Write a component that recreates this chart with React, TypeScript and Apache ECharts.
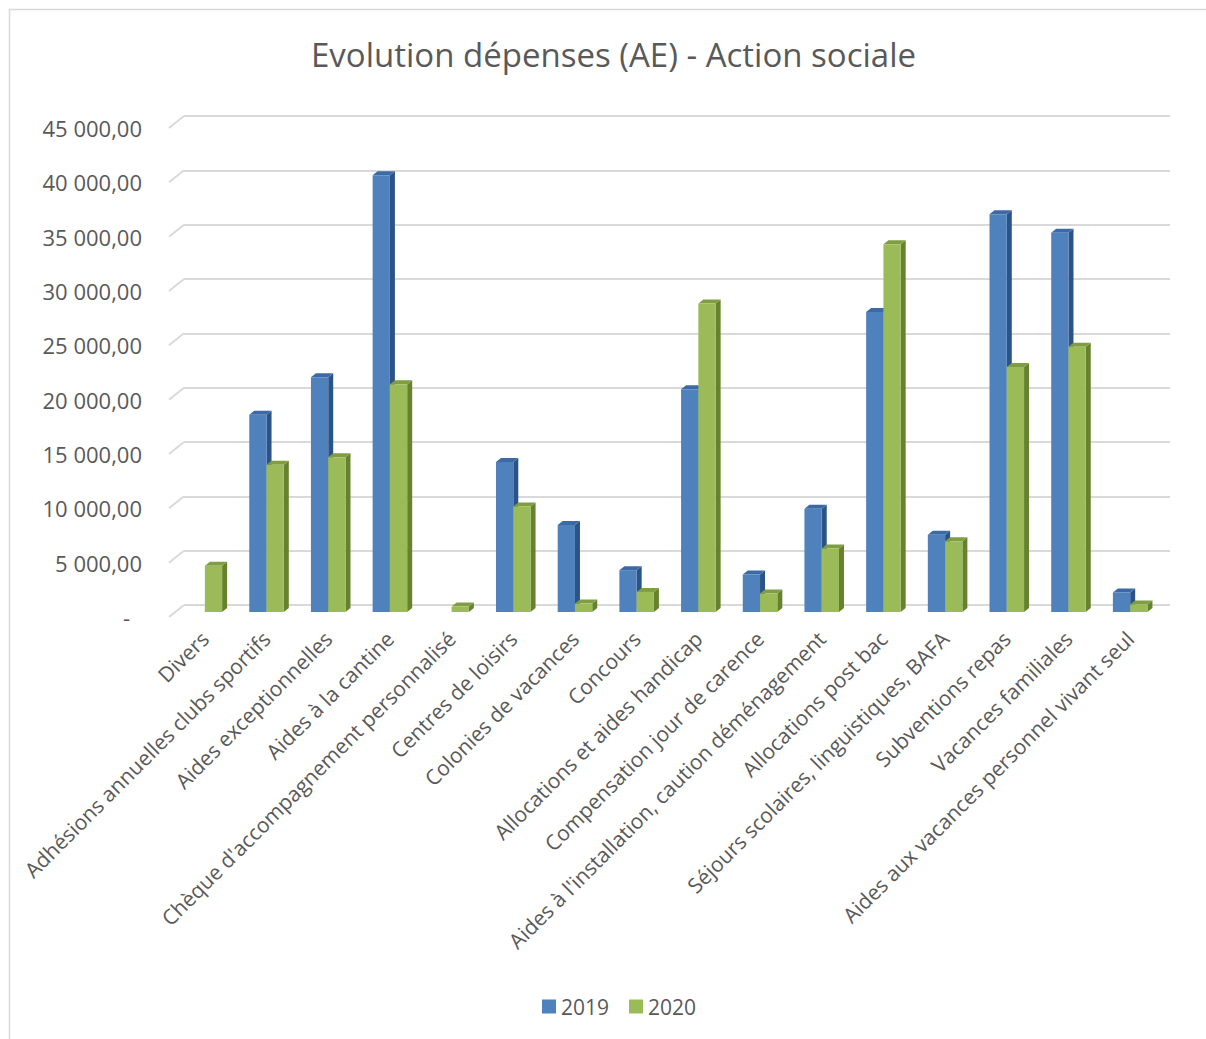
import React, { useEffect, useRef } from "react";
import * as echarts from "echarts";

const categories = [
  "Divers",
  "Adhésions annuelles clubs sportifs",
  "Aides exceptionnelles",
  "Aides à la cantine",
  "Chèque d'accompagnement personnalisé",
  "Centres de loisirs",
  "Colonies de vacances",
  "Concours",
  "Allocations et aides handicap",
  "Compensation jour de carence",
  "Aides à l'installation, caution déménagement",
  "Allocations post bac",
  "Séjours scolaires, linguistiques, BAFA",
  "Subventions repas",
  "Vacances familiales",
  "Aides aux vacances personnel vivant seul",
];

const values2019 = [0, 18150, 21600, 40200, 0, 13800, 8000, 3850, 20500, 3450, 9500, 27600, 7100, 36600, 34900, 1800];
const values2020 = [4250, 13550, 14250, 20950, 500, 9700, 780, 1850, 28400, 1700, 5850, 33850, 6500, 22550, 24400, 700];

const yTicks = [0, 5000, 10000, 15000, 20000, 25000, 30000, 35000, 40000, 45000];
const seriesNames = ["2019", "2020"];

const TEXT = "#595959";
const GRID = "#d9d9d9";
const FONT = "'Open Sans', sans-serif";

const palette = [
  { front: "#4f81bd", side: "#2c5386", top: "#3c6aa6" },
  { front: "#9bbb59", side: "#66822f", top: "#7f9e42" },
];

function fmt(v: number): string {
  if (v === 0) return "{d|-}";
  return Math.round(v).toString().replace(/\B(?=(\d{3})+(?!\d))/g, " ") + ",00";
}

function makeBarSeries(si: number, values: number[]) {
  const col = palette[si];
  return {
    type: "custom",
    name: seriesNames[si],
    xAxisIndex: 1,
    yAxisIndex: 1,
    itemStyle: { color: col.front },
    data: values.map((v, i) => [i, v]),
    renderItem: (params: any, api: any) => {
      const idx = api.value(0);
      const v = api.value(1);
      if (!v) return { type: "group", children: [] };
      const base = api.coord([idx, 0]);
      const top = api.coord([idx, v]);
      const band = api.size([1, 0])[0];
      const w = band * 0.28;
      const dx = 5;
      const dy = 4;
      const x0 = si === 0 ? base[0] - w : base[0];
      const yb = base[1];
      const yt = top[1];
      return {
        type: "group",
        children: [
          {
            type: "polygon",
            shape: { points: [[x0 + w, yt], [x0 + w + dx, yt - dy], [x0 + w + dx, yb - dy], [x0 + w, yb]] },
            style: { fill: col.side },
          },
          {
            type: "polygon",
            shape: { points: [[x0, yt], [x0 + dx, yt - dy], [x0 + w + dx, yt - dy], [x0 + w, yt]] },
            style: { fill: col.top },
          },
          {
            type: "rect",
            shape: { x: x0, y: yt, width: w, height: yb - yt },
            style: { fill: col.front },
          },
        ],
      };
    },
  };
}

export default function App() {
  const ref = useRef<HTMLDivElement>(null);
  useEffect(() => {
    document.body.style.margin = "0";
    const chart = echarts.init(ref.current!, null, { renderer: "svg" });
    const option: any = {
      animation: false,
      backgroundColor: "#ffffff",
      textStyle: { fontFamily: FONT },
      title: {
        text: "Evolution dépenses (AE) - Action sociale",
        left: 306,
        top: 33,
        textStyle: { fontFamily: FONT, fontSize: 33, fontWeight: "normal", color: TEXT },
      },
      legend: {
        bottom: 17,
        left: 537,
        icon: "rect",
        itemWidth: 14,
        itemHeight: 14,
        itemGap: 20,
        data: seriesNames,
        textStyle: { fontFamily: FONT, fontSize: 21, color: TEXT },
      },
      graphic: [
        {
          type: "rect",
          shape: { x: 9.5, y: 9.5, width: 1210, height: 1040 },
          style: { fill: "none", stroke: GRID, lineWidth: 1.5 },
          silent: true,
        },
      ],
      grid: [
        { left: 184, top: 116, width: 986, height: 489 },
        { left: 174, top: 123, width: 987, height: 489 },
        { left: 169, top: 128, width: 990, height: 489 },
      ],
      xAxis: [
        { type: "category", gridIndex: 0, data: categories, show: false },
        {
          type: "category",
          gridIndex: 1,
          data: categories,
          axisLine: { show: false },
          axisTick: { show: false },
          axisLabel: {
            interval: 0,
            rotate: 45,
            margin: 23,
            fontFamily: FONT,
            fontSize: 21,
            color: TEXT,
          },
        },
        { type: "value", gridIndex: 2, min: 0, max: 1, show: false },
      ],
      yAxis: [
        {
          type: "value",
          gridIndex: 0,
          min: 0,
          max: 45000,
          interval: 5000,
          axisLabel: { show: false },
          axisLine: { show: false },
          axisTick: { show: false },
          splitLine: { show: true, lineStyle: { color: GRID, width: 2 } },
        },
        { type: "value", gridIndex: 1, min: 0, max: 45000, interval: 5000, show: false },
        {
          type: "value",
          gridIndex: 2,
          min: 0,
          max: 45000,
          interval: 5000,
          axisLine: { show: false },
          axisTick: { show: false },
          splitLine: { show: false },
          axisLabel: {
            margin: 27,
            fontFamily: FONT,
            fontSize: 22,
            color: TEXT,
            formatter: (v: number) => fmt(v),
            rich: { d: { fontFamily: FONT, fontSize: 22, color: TEXT, padding: [0, 12, 0, 0] } },
          },
        },
      ],
      series: [
        {
          type: "custom",
          xAxisIndex: 2,
          yAxisIndex: 2,
          silent: true,
          data: yTicks.map((t) => [0, t]),
          renderItem: (params: any, api: any) => {
            const y = api.coord([0, api.value(1)])[1];
            const x = params.coordSys.x;
            return {
              type: "line",
              shape: { x1: x, y1: y, x2: x + 15, y2: y - 12 },
              style: { stroke: GRID, lineWidth: 2 },
            };
          },
        },
        makeBarSeries(0, values2019),
        makeBarSeries(1, values2020),
      ],
    };
    chart.setOption(option);
    return () => chart.dispose();
  }, []);
  return <div ref={ref} style={{ width: 1206, height: 1039 }} />;
}
